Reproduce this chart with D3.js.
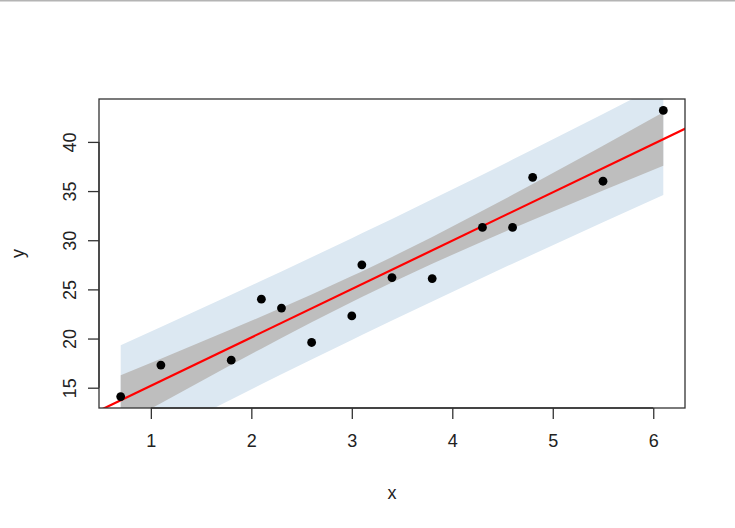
<!DOCTYPE html>
<html>
<head>
<meta charset="utf-8">
<script src="https://cdn.jsdelivr.net/npm/d3@7"></script>
<style>
  html, body { margin: 0; padding: 0; background: #fff; }
  svg { display: block; }
</style>
</head>
<body>
<script>
// ---- data ----
const xVals = [0.7, 1.1, 1.8, 2.1, 2.3, 2.6, 3.0, 3.1, 3.4, 3.8, 4.3, 4.6, 4.8, 5.5, 6.1];
const yVals = [14.1, 17.3, 17.8, 24.0, 23.1, 19.6, 22.3, 27.5, 26.2, 26.1, 31.3, 31.3, 36.4, 36.0, 43.2];
// band edges at the sorted x values
const bandX     = [0.7, 1.1, 1.8, 2.1, 2.3, 2.6, 3.0, 3.1, 3.4, 3.8, 4.3, 4.6, 4.8, 5.5, 6.1];
const confLower = [11.18, 13.43, 17.33, 18.97, 20.06, 21.65, 23.72, 24.23, 25.71, 27.61, 29.88, 31.20, 32.07, 35.05, 37.57];
const confUpper = [16.26, 17.95, 20.94, 22.24, 23.13, 24.48, 26.35, 26.83, 28.30, 30.34, 32.99, 34.62, 35.72, 39.62, 43.01];
const predLower = [8.11, 10.20, 13.81, 15.34, 16.36, 17.87, 19.86, 20.36, 21.83, 23.78, 26.19, 27.62, 28.56, 31.83, 34.59];
const predUpper = [19.33, 21.18, 24.45, 25.87, 26.83, 28.27, 30.21, 30.70, 32.17, 34.16, 36.67, 38.20, 39.22, 42.84, 45.98];
const lineIntercept = 10.278;
const lineSlope = 4.919;
const xTicks = [1, 2, 3, 4, 5, 6];
const yTicks = [15, 20, 25, 30, 35, 40];

// ---- layout ----
const W = 735, H = 528;
const L = 99, R = 685, T = 99, B = 408;

const svg = d3.select("body").append("svg").attr("width", W).attr("height", H);
svg.append("rect").attr("x", 0).attr("y", 0).attr("width", W).attr("height", 1.5).attr("fill", "#b4b4b4");

const xMin = d3.min(xVals), xMax = d3.max(xVals);
const yMin = d3.min(yVals), yMax = d3.max(yVals);
const xs = d3.scaleLinear().domain([xMin - 0.04 * (xMax - xMin), xMax + 0.04 * (xMax - xMin)]).range([L, R]);
const ys = d3.scaleLinear().domain([yMin - 0.04 * (yMax - yMin), yMax + 0.04 * (yMax - yMin)]).range([B, T]);

svg.append("clipPath").attr("id", "clip").append("rect")
  .attr("x", L).attr("y", T).attr("width", R - L).attr("height", B - T);
const plot = svg.append("g").attr("clip-path", "url(#clip)");

const area = (lo, hi) => d3.area().x((d, i) => xs(bandX[i])).y0((d, i) => ys(lo[i])).y1((d, i) => ys(hi[i]));

plot.append("path").datum(bandX).attr("d", area(predLower, predUpper)).attr("fill", "#dce8f2");
plot.append("path").datum(bandX).attr("d", area(confLower, confUpper)).attr("fill", "#bebebe");

const [dx0, dx1] = xs.domain();
plot.append("line")
  .attr("x1", xs(dx0 - 1)).attr("y1", ys(lineIntercept + lineSlope * (dx0 - 1)))
  .attr("x2", xs(dx1 + 1)).attr("y2", ys(lineIntercept + lineSlope * (dx1 + 1)))
  .attr("stroke", "#ff0000").attr("stroke-width", 2.2);

plot.selectAll("circle").data(xVals).join("circle")
  .attr("cx", (d) => xs(d)).attr("cy", (d, i) => ys(yVals[i]))
  .attr("r", 4.4).attr("fill", "#000");

// box
svg.append("rect").attr("x", L).attr("y", T).attr("width", R - L).attr("height", B - T)
  .attr("fill", "none").attr("stroke", "#333").attr("stroke-width", 1.3);

const font = "'Liberation Sans', Arial, sans-serif";
const tickCol = "#333";
const fs = 18;

// x axis
const xAxis = d3.axisBottom(xs).tickValues(xTicks).tickSize(11).tickPadding(15).tickFormat(d3.format("d"));
const gx = svg.append("g").attr("transform", `translate(0,${B})`).call(xAxis);
gx.select(".domain").attr("stroke", tickCol).attr("stroke-width", 1.3)
  .attr("d", `M${xs(1)},0H${xs(6)}`);
gx.selectAll(".tick line").attr("stroke", tickCol).attr("stroke-width", 1.3);
gx.selectAll(".tick text").attr("font-family", font).attr("font-size", fs).attr("fill", "#222");

// y axis
const yAxis = d3.axisLeft(ys).tickValues(yTicks).tickSize(11).tickPadding(14);
const gy = svg.append("g").attr("transform", `translate(${L},0)`).call(yAxis);
gy.select(".domain").attr("stroke", tickCol).attr("stroke-width", 1.3)
  .attr("d", `M0,${ys(15)}V${ys(40)}`);
gy.selectAll(".tick line").attr("stroke", tickCol).attr("stroke-width", 1.3);
gy.selectAll(".tick text")
  .attr("font-family", font).attr("font-size", fs).attr("fill", "#222")
  .attr("x", null).attr("dy", null)
  .attr("text-anchor", "middle")
  .attr("transform", "translate(-29,0) rotate(-90)")
  .attr("dy", "0.35em");

// axis titles
svg.append("text").attr("x", (L + R) / 2).attr("y", 499).attr("text-anchor", "middle")
  .attr("font-family", font).attr("font-size", fs).attr("fill", "#222").text("x");
svg.append("text").attr("transform", `translate(24,${(T + B) / 2}) rotate(-90)`).attr("text-anchor", "middle")
  .attr("font-family", font).attr("font-size", fs).attr("fill", "#222").text("y");
</script>
</body>
</html>
